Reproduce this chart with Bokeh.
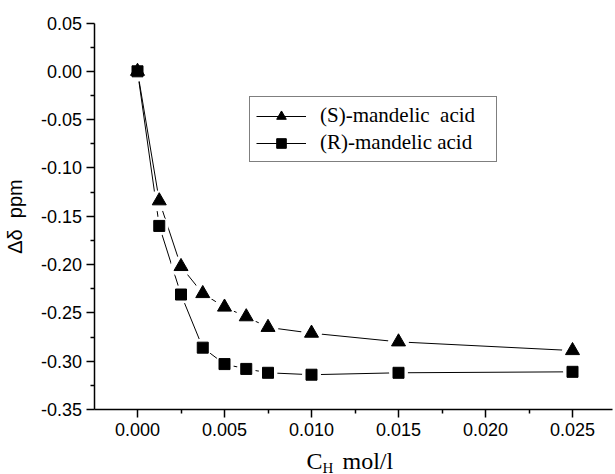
from bokeh.plotting import figure
from bokeh.models import (FixedTicker, NumeralTickFormatter, Legend, LegendItem,
                          Label, Range1d, ColumnDataSource, LinearAxis)
from bokeh.embed import file_html
from bokeh.resources import INLINE

# ---- data ----
conc = [0.0, 0.00125, 0.0025, 0.00375, 0.005, 0.00625, 0.0075, 0.010, 0.015, 0.025]
s_shift = [0.0, -0.134, -0.202, -0.230, -0.244, -0.254, -0.265, -0.271, -0.280, -0.289]
r_shift = [0.0, -0.160, -0.231, -0.286, -0.303, -0.308, -0.312, -0.314, -0.312, -0.311]
s_label = "(S)-mandelic\u00a0 acid"
r_label = "(R)-mandelic acid"
y_title = "\u0394\u03b4\u00a0 ppm"
x_title_main, x_title_sub, x_title_unit = "C", "H", "mol/l"
x_major = [0.0, 0.005, 0.010, 0.015, 0.020, 0.025]
x_minor = [0.0025, 0.0075, 0.0125, 0.0175, 0.0225]
y_major = [-0.35, -0.30, -0.25, -0.20, -0.15, -0.10, -0.05, 0.0, 0.05]
y_minor = [-0.325, -0.275, -0.225, -0.175, -0.125, -0.075, -0.025, 0.025]
x_axis_span = (-0.0025, 0.0273)
y_axis_span = (-0.35, 0.05)

src_s = ColumnDataSource(dict(x=conc, y=s_shift))
src_r = ColumnDataSource(dict(x=conc, y=r_shift))

p = figure(width=615, height=474, output_backend="svg", toolbar_location=None,
           x_axis_type=None, y_axis_type=None,
           x_range=Range1d(-0.0078736, 0.027471), y_range=Range1d(-0.41727, 0.073286),
           min_border_left=0, min_border_right=0, min_border_top=0, min_border_bottom=0)
p.outline_line_color = None
p.background_fill_color = "white"
p.border_fill_color = "white"

# lines
l_s = p.line("x", "y", source=src_s, line_color="black", line_width=1)
l_r = p.line("x", "y", source=src_r, line_color="black", line_width=1)
# white halos to create gaps around markers
p.scatter("x", "y", source=src_s, marker="circle", size=21, fill_color="white", line_color=None)
p.scatter("x", "y", source=src_r, marker="circle", size=19, fill_color="white", line_color=None)
# markers
m_s = p.scatter("x", "y", source=src_s, marker="triangle", size=14,
                fill_color="black", line_color="black", line_width=1)
m_r = p.scatter("x", "y", source=src_r, marker="square", size=11,
                fill_color="black", line_color="black", line_width=1)

xax = LinearAxis(fixed_location=y_axis_span[0], bounds=x_axis_span,
                 ticker=FixedTicker(ticks=x_major, minor_ticks=x_minor),
                 formatter=NumeralTickFormatter(format="0.000"))
yax = LinearAxis(fixed_location=x_axis_span[0], bounds=y_axis_span,
                 ticker=FixedTicker(ticks=y_major, minor_ticks=y_minor),
                 formatter=NumeralTickFormatter(format="0.00"))
for ax in (xax, yax):
    ax.axis_line_width = 1.5
    ax.major_tick_line_width = 1.5
    ax.minor_tick_line_width = 1.5
    ax.major_tick_out = 8
    ax.major_tick_in = 0
    ax.minor_tick_out = 4
    ax.minor_tick_in = 0
    ax.major_label_text_font = "Liberation Sans"
    ax.major_label_text_font_size = "18px"
    ax.major_label_text_color = "black"
    ax.axis_line_color = "black"
    ax.major_tick_line_color = "black"
    ax.minor_tick_line_color = "black"
xax.major_label_standoff = 5
yax.major_label_standoff = 4
yax.axis_label = y_title
yax.axis_label_text_font = "Liberation Sans"
yax.axis_label_text_font_style = "normal"
yax.axis_label_text_font_size = "20px"
yax.axis_label_text_color = "black"
yax.axis_label_standoff = 12
p.add_layout(xax, "below")
p.add_layout(yax, "left")

# x-axis title  C_H mol/l
p.add_layout(Label(x=306, y=14, x_units="screen", y_units="screen", text=x_title_main,
                   text_font="Liberation Serif", text_font_size="24px",
                   text_baseline="alphabetic", text_color="black"))
p.add_layout(Label(x=322, y=7, x_units="screen", y_units="screen", text=x_title_sub,
                   text_font="Liberation Serif", text_font_size="15px",
                   text_baseline="alphabetic", text_color="black"))
p.add_layout(Label(x=342, y=14, x_units="screen", y_units="screen", text=x_title_unit,
                   text_font="Liberation Serif", text_font_size="24px",
                   text_baseline="alphabetic", text_color="black"))

legend = Legend(items=[LegendItem(label=s_label, renderers=[l_s, m_s]),
                       LegendItem(label=r_label, renderers=[l_r, m_r])],
                location=(249, 312))
legend.label_text_font = "Liberation Serif"
legend.label_text_font_size = "21px"
legend.label_text_color = "black"
legend.glyph_width = 50
legend.glyph_height = 24
legend.label_height = 24
legend.label_width = 170
legend.label_standoff = 14
legend.spacing = 2
legend.padding = 6
legend.margin = 0
legend.border_line_color = "black"
legend.border_line_width = 1
legend.background_fill_color = "white"
legend.background_fill_alpha = 1
p.add_layout(legend)

open("out.html", "w").write(file_html(p, INLINE))
